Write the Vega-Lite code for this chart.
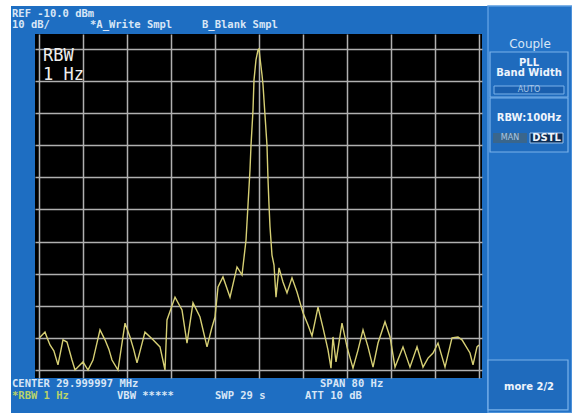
{
  "$schema": "https://vega.github.io/schema/vega-lite/v6.json",
  "width": 447,
  "height": 344,
  "autosize": {"type": "none"},
  "padding": {"left": 35, "top": 34, "right": 90, "bottom": 35},
  "background": "#1e6ec2",
  "config": {
    "view": {"fill": "#000000", "stroke": null},
    "text": {"font": "DejaVu Sans Mono"}
  },
  "encoding": {
    "x": {"field": "x", "type": "quantitative",
      "scale": {"domain": [-40.727, 40.545], "nice": false, "zero": false},
      "axis": {"values": [-40, -32, -24, -16, -8, 0, 8, 16, 24, 32, 40], "grid": true, "labels": false, "ticks": false, "domain": false, "title": null, "gridColor": "#b0b0b0", "gridWidth": 1.5}},
    "y": {"field": "y", "type": "quantitative",
      "scale": {"domain": [-112.49, -5.33], "nice": false, "zero": false},
      "axis": {"values": [-10, -20, -30, -40, -50, -60, -70, -80, -90, -100, -110], "grid": true, "labels": false, "ticks": false, "domain": false, "title": null, "gridColor": "#b0b0b0", "gridWidth": 1.5}}
  },
  "layer": [
    {
      "data": {"values": [
        {"x": -47.1, "x2": -45.09, "y": 5.3, "y2": -123.4},
        {"x": -47.1, "x2": 56.91, "y": 5.3, "y2": 3.4}
      ]},
      "mark": {"type": "rect", "fill": "#ffffff"},
      "encoding": {"x2": {"field": "x2"}, "y2": {"field": "y2"}}
    },
    {
      "data": {"values": [
        {"x": 41.64, "x2": 56.91, "y": 3.4, "y2": -123.4}
      ]},
      "mark": {"type": "rect", "fill": "#2372c6", "stroke": "#5a9ce0", "strokeWidth": 1.5},
      "encoding": {"x2": {"field": "x2"}, "y2": {"field": "y2"}}
    },
    {
      "data": {"values": [
        {"x": 42.0, "x2": 56.18, "y": -10.93, "y2": -24.95},
        {"x": 42.0, "x2": 56.18, "y": -25.26, "y2": -42.09},
        {"x": 41.64, "x2": 56.18, "y": -106.88, "y2": -122.45}
      ]},
      "mark": {"type": "rect", "fill": "#1f6bbd", "stroke": "#7ab2ea", "strokeWidth": 1.2},
      "encoding": {"x2": {"field": "x2"}, "y2": {"field": "y2"}}
    },
    {
      "data": {"values": [
        {"x": 42.73, "x2": 55.45, "y": -21.53, "y2": -24.02}
      ]},
      "mark": {"type": "rect", "fill": "#1a5fae", "stroke": "#7ab2ea", "strokeWidth": 1},
      "encoding": {"x2": {"field": "x2"}, "y2": {"field": "y2"}}
    },
    {
      "data": {"values": [
        {"x": 42.55, "x2": 48.73, "y": -36.17, "y2": -39.28}
      ]},
      "mark": {"type": "rect", "fill": "#3a668c"},
      "encoding": {"x2": {"field": "x2"}, "y2": {"field": "y2"}}
    },
    {
      "data": {"values": [
        {"x": 49.27, "x2": 55.27, "y": -36.17, "y2": -39.28}
      ]},
      "mark": {"type": "rect", "fill": "#0c2d55", "stroke": "#9cc4ee", "strokeWidth": 1},
      "encoding": {"x2": {"field": "x2"}, "y2": {"field": "y2"}}
    },
    {
      "data": {"values": [
        {"x": -39.95, "y": -100.0}, {"x": -38.91, "y": -98.2}, {"x": -38.4, "y": -100.5}, {"x": -38.0, "y": -102.2},
        {"x": -37.3, "y": -104.0}, {"x": -36.55, "y": -108.4}, {"x": -35.64, "y": -100.6}, {"x": -34.91, "y": -101.3},
        {"x": -34.0, "y": -106.9}, {"x": -33.45, "y": -110.0}, {"x": -32.0, "y": -107.5},
        {"x": -31.09, "y": -110.0}, {"x": -30.18, "y": -106.9}, {"x": -28.91, "y": -97.5},
        {"x": -28.0, "y": -100.6}, {"x": -27.3, "y": -103.5}, {"x": -26.73, "y": -106.9}, {"x": -25.64, "y": -110.0},
        {"x": -24.36, "y": -95.4}, {"x": -23.45, "y": -99.7}, {"x": -22.8, "y": -103.5}, {"x": -22.18, "y": -107.8},
        {"x": -20.73, "y": -98.2}, {"x": -19.27, "y": -100.6}, {"x": -18.0, "y": -102.8},
        {"x": -17.09, "y": -110.0}, {"x": -16.73, "y": -94.4}, {"x": -15.27, "y": -87.3},
        {"x": -14.0, "y": -91.3}, {"x": -13.09, "y": -101.6}, {"x": -12.0, "y": -89.1},
        {"x": -10.73, "y": -93.5}, {"x": -9.45, "y": -102.8}, {"x": -8.6, "y": -97.0}, {"x": -8.0, "y": -93.5},
        {"x": -7.45, "y": -84.1}, {"x": -6.55, "y": -81.0}, {"x": -5.27, "y": -87.3},
        {"x": -4.0, "y": -77.9}, {"x": -3.09, "y": -80.4}, {"x": -2.36, "y": -69.5},
        {"x": -2.0, "y": -58.6}, {"x": -1.64, "y": -47.7}, {"x": -1.45, "y": -39.9},
        {"x": -1.09, "y": -29.0}, {"x": -0.91, "y": -19.7}, {"x": -0.55, "y": -13.4},
        {"x": -0.18, "y": -10.3}, {"x": 0.0, "y": -10.0}, {"x": 0.18, "y": -12.8},
        {"x": 0.55, "y": -18.1}, {"x": 0.73, "y": -21.2}, {"x": 1.09, "y": -30.6},
        {"x": 1.45, "y": -39.9}, {"x": 1.64, "y": -50.8}, {"x": 1.82, "y": -58.6},
        {"x": 2.0, "y": -65.4}, {"x": 2.36, "y": -74.2}, {"x": 2.73, "y": -77.3},
        {"x": 3.09, "y": -87.3}, {"x": 3.64, "y": -78.2}, {"x": 4.36, "y": -82.6},
        {"x": 5.09, "y": -86.0}, {"x": 6.0, "y": -81.3}, {"x": 6.91, "y": -85.7},
        {"x": 8.0, "y": -92.2}, {"x": 8.91, "y": -96.0}, {"x": 9.64, "y": -99.4},
        {"x": 10.73, "y": -90.4}, {"x": 11.64, "y": -96.9}, {"x": 12.55, "y": -103.8},
        {"x": 13.09, "y": -109.4}, {"x": 13.45, "y": -99.7}, {"x": 14.0, "y": -107.5},
        {"x": 15.09, "y": -95.4}, {"x": 16.0, "y": -102.8}, {"x": 17.09, "y": -109.4},
        {"x": 18.0, "y": -103.8}, {"x": 18.91, "y": -97.5}, {"x": 19.82, "y": -102.8},
        {"x": 20.73, "y": -109.1}, {"x": 21.64, "y": -101.6}, {"x": 22.91, "y": -95.0},
        {"x": 23.82, "y": -99.7}, {"x": 24.73, "y": -109.1}, {"x": 26.18, "y": -102.8},
        {"x": 27.45, "y": -109.1}, {"x": 28.73, "y": -102.8}, {"x": 29.82, "y": -109.1},
        {"x": 30.73, "y": -106.3}, {"x": 31.64, "y": -104.7}, {"x": 32.55, "y": -101.6},
        {"x": 33.82, "y": -109.1}, {"x": 35.09, "y": -100.0}, {"x": 36.18, "y": -99.7},
        {"x": 36.91, "y": -100.6}, {"x": 38.36, "y": -104.7}, {"x": 38.91, "y": -108.4},
        {"x": 39.64, "y": -102.8}, {"x": 40.0, "y": -102.2}
      ]},
      "mark": {"type": "line", "color": "#d6cf74", "strokeWidth": 1.4}
    },
    {
      "data": {"values": [
        {"x": -44.91, "y": 0.9, "label": "REF -10.0 dBm"},
        {"x": -44.91, "y": -2.6, "label": "10 dB/"},
        {"x": -30.73, "y": -2.6, "label": "*A_Write Smpl"},
        {"x": -10.36, "y": -2.6, "label": "B_Blank Smpl"},
        {"x": -44.91, "y": -114.35, "label": "CENTER 29.999997 MHz"},
        {"x": 11.09, "y": -114.35, "label": "SPAN 80 Hz"},
        {"x": -25.82, "y": -118.1, "label": "VBW *****"},
        {"x": -8.0, "y": -118.1, "label": "SWP 29 s"},
        {"x": 8.36, "y": -118.1, "label": "ATT 10 dB"}
      ]},
      "mark": {"type": "text", "align": "left", "baseline": "middle", "fontSize": 10.5, "fontWeight": "bold", "color": "#d8e6f6"},
      "encoding": {"text": {"field": "label"}}
    },
    {
      "data": {"values": [
        {"x": -44.91, "y": -118.1, "label": "*RBW 1 Hz"}
      ]},
      "mark": {"type": "text", "align": "left", "baseline": "middle", "fontSize": 10.5, "fontWeight": "bold", "color": "#b9d26a"},
      "encoding": {"text": {"field": "label"}}
    },
    {
      "data": {"values": [
        {"x": -39.27, "y": -12.3, "label": "RBW"},
        {"x": -39.27, "y": -18.2, "label": "1 Hz"}
      ]},
      "mark": {"type": "text", "align": "left", "baseline": "middle", "fontSize": 17, "color": "#eeeeee"},
      "encoding": {"text": {"field": "label"}}
    },
    {
      "data": {"values": [
        {"x": 49.27, "y": -8.44, "label": "Couple"}
      ]},
      "mark": {"type": "text", "align": "center", "baseline": "middle", "fontSize": 12, "font": "DejaVu Sans", "color": "#d8e6f6"},
      "encoding": {"text": {"field": "label"}}
    },
    {
      "data": {"values": [
        {"x": 49.09, "y": -14.36, "label": "PLL"},
        {"x": 49.09, "y": -17.48, "label": "Band Width"},
        {"x": 49.09, "y": -31.49, "label": "RBW:100Hz"},
        {"x": 49.09, "y": -115.29, "label": "more 2/2"},
        {"x": 52.27, "y": -37.72, "label": "DSTL"}
      ]},
      "mark": {"type": "text", "align": "center", "baseline": "middle", "fontSize": 10, "fontWeight": "bold", "font": "DejaVu Sans", "color": "#eef4fc"},
      "encoding": {"text": {"field": "label"}}
    },
    {
      "data": {"values": [
        {"x": 49.09, "y": -22.77, "label": "AUTO"},
        {"x": 45.64, "y": -37.72, "label": "MAN"}
      ]},
      "mark": {"type": "text", "align": "center", "baseline": "middle", "fontSize": 8, "font": "DejaVu Sans", "color": "#a9c6e6"},
      "encoding": {"text": {"field": "label"}}
    }
  ]
}
